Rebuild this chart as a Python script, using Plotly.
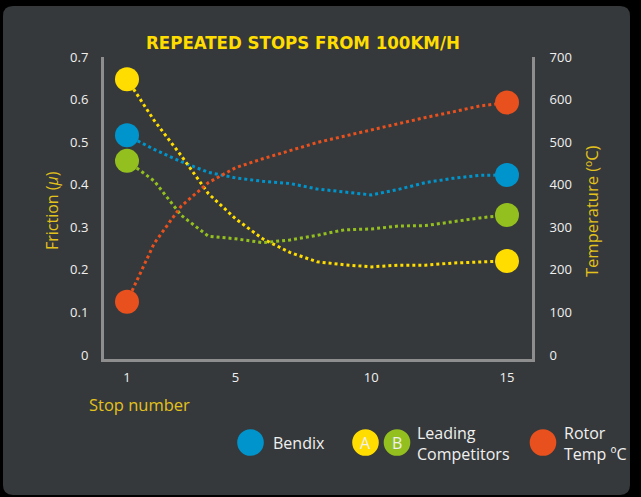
import plotly.graph_objects as go

# ---- data ----
stops = list(range(1, 16))
bendix = [0.516, 0.483, 0.454, 0.429, 0.416, 0.408, 0.403, 0.390, 0.383, 0.376, 0.389, 0.405, 0.415, 0.422, 0.423]
competitor_a = [0.648, 0.551, 0.468, 0.379, 0.320, 0.273, 0.241, 0.219, 0.212, 0.207, 0.211, 0.211, 0.216, 0.219, 0.221]
competitor_b = [0.456, 0.409, 0.328, 0.279, 0.273, 0.264, 0.270, 0.281, 0.294, 0.296, 0.303, 0.304, 0.313, 0.322, 0.329]
rotor_temp = [125, 262, 350, 405, 440, 461, 480, 499, 514, 529, 544, 558, 571, 585, 593]

x_ticks = [1, 5, 10, 15]
friction_ticks = [0, 0.1, 0.2, 0.3, 0.4, 0.5, 0.6, 0.7]
friction_labels = ["0", "0.1", "0.2", "0.3", "0.4", "0.5", "0.6", "0.7"]
temp_ticks = [0, 100, 200, 300, 400, 500, 600, 700]

title_text = "REPEATED STOPS FROM 100KM/H"

# ---- styling ----
W, H = 641, 497
L, R, T, B = 104, 532, 57, 359   # plot area in pixels
BG = "#36393b"
YELLOW = "#ffdd00"
BLUE = "#0094cc"
GREEN = "#93c01f"
RED = "#e8501e"
AXIS_YELLOW = "#e3c21b"
TEXT = "#f0f0f0"
AXIS_GRAY = "#8e8e8e"
FONT = "Open Sans"


def px(xp):
    return (xp - L) / (R - L)


def py(yp):
    return (B - yp) / (B - T)


fig = go.Figure()

series = [
    (bendix, BLUE, "y"),
    (competitor_a, YELLOW, "y"),
    (competitor_b, GREEN, "y"),
    (rotor_temp, RED, "y2"),
]

for vals, col, ax in series:
    fig.add_trace(go.Scatter(x=stops, y=vals, mode="lines", yaxis=ax,
                             line=dict(color=col, width=3, dash="dot"),
                             hoverinfo="skip", showlegend=False))
for vals, col, ax in series:
    fig.add_trace(go.Scatter(x=[stops[0], stops[-1]], y=[vals[0], vals[-1]],
                             mode="markers", yaxis=ax,
                             marker=dict(color=col, size=24, line=dict(width=0)),
                             hoverinfo="skip", showlegend=False))

# background rounded panel
x0p, x1p, y0p, y1p, r = 3, 630, 6, 495, 10
def P(a, b):
    return f"{px(a):.5f},{py(b):.5f}"
path = (f"M {P(x0p + r, y0p)} L {P(x1p - r, y0p)} Q {P(x1p, y0p)} {P(x1p, y0p + r)} "
        f"L {P(x1p, y1p - r)} Q {P(x1p, y1p)} {P(x1p - r, y1p)} "
        f"L {P(x0p + r, y1p)} Q {P(x0p, y1p)} {P(x0p, y1p - r)} "
        f"L {P(x0p, y0p + r)} Q {P(x0p, y0p)} {P(x0p + r, y0p)} Z")
shapes = [dict(type="path", xref="paper", yref="paper", path=path,
               fillcolor=BG, line=dict(width=0), layer="below")]

# legend circles
def circle(cx, cy, rad, col):
    return dict(type="circle", xref="paper", yref="paper",
                xsizemode="pixel", ysizemode="pixel",
                xanchor=px(cx), yanchor=py(cy),
                x0=-rad, x1=rad, y0=-rad, y1=rad,
                fillcolor=col, line=dict(width=0), layer="above")

shapes += [circle(250.5, 442.5, 13.3, BLUE), circle(365.5, 442.5, 13.3, YELLOW),
           circle(397, 442.5, 13.3, GREEN), circle(543, 442.5, 13.3, RED)]


def ann(text, xp, yp, size=16, color=TEXT, xanchor="left", angle=0, family=FONT):
    return dict(text=text, x=px(xp), y=py(yp), xref="paper", yref="paper",
                xanchor=xanchor, yanchor="middle", showarrow=False, textangle=angle,
                align="left", font=dict(size=size, color=color, family=family))

annotations = [
    dict(text=f"<b>{title_text}</b>", x=px(303), y=py(42), xref="paper", yref="paper",
         xanchor="center", yanchor="middle", showarrow=False,
         font=dict(size=18.5, color=YELLOW, family="DejaVu Sans Condensed, Roboto, sans-serif")),
    ann("Friction (<i>µ</i>)", 52, 211, size=16, color=AXIS_YELLOW, xanchor="center", angle=-90),
    ann("Temperature (ºC)", 592, 211, size=16.5, color=AXIS_YELLOW, xanchor="center", angle=-90),
    ann("Stop number", 87, 404, size=16.5, color=AXIS_YELLOW),
    ann("Bendix", 271, 442.5),
    ann("A", 365.5, 442.5, xanchor="center"),
    ann("B", 397, 442.5, xanchor="center"),
    ann("Leading<br>Competitors", 415, 443.5, size=16),
    ann("Rotor<br>Temp ºC", 562, 443.5, size=16),
]

fig.update_layout(
    width=W, height=H, autosize=False,
    margin=dict(l=L, r=W - R, t=T, b=H - B, pad=0),
    paper_bgcolor="#000000", plot_bgcolor="rgba(0,0,0,0)",
    font=dict(family=FONT, color=TEXT, size=13),
    shapes=shapes, annotations=annotations, showlegend=False,
    xaxis=dict(range=[0.1525, 15.921], tickvals=x_ticks, ticktext=[str(v) for v in x_ticks],
               showgrid=False, zeroline=False, showline=True, linecolor=AXIS_GRAY, linewidth=3,
               ticks="", ticklabelstandoff=4, tickfont=dict(size=13, color=TEXT, family=FONT),
               fixedrange=True),
    yaxis=dict(range=[-0.0094, 0.7], tickvals=friction_ticks, ticktext=friction_labels,
               showgrid=False, zeroline=False, showline=True, linecolor=AXIS_GRAY, linewidth=3,
               ticks="", ticklabelstandoff=10, tickfont=dict(size=13, color=TEXT, family=FONT),
               fixedrange=True),
    yaxis2=dict(range=[-9.4, 700], tickvals=temp_ticks, overlaying="y", side="right",
                showgrid=False, zeroline=False, showline=True, linecolor=AXIS_GRAY, linewidth=3,
                ticks="", ticklabelstandoff=12, tickfont=dict(size=13, color=TEXT, family=FONT),
                fixedrange=True),
)

fig.write_html("out.html", config={"displayModeBar": False},
               post_script="document.body.style.margin='0';document.body.style.background='#000';")
